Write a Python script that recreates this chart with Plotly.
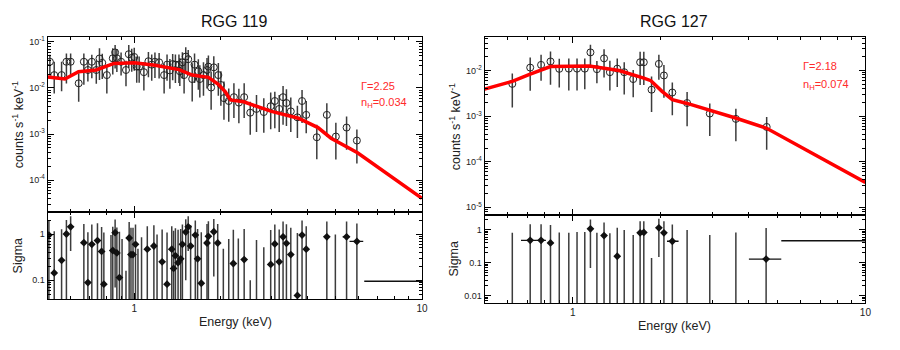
import numpy as np
import plotly.graph_objects as go

# RGG 119 spectrum (keV, counts s^-1 keV^-1), error bars in dex
e119 = [0.509, 0.527, 0.559, 0.581, 0.601, 0.641, 0.668, 0.690, 0.712, 0.738, 0.757, 0.774,
        0.803, 0.842, 0.858, 0.870, 0.900, 0.936, 0.957, 0.980, 1.00, 1.02, 1.04, 1.08,
        1.12, 1.15, 1.18, 1.22, 1.27, 1.30, 1.33, 1.36, 1.39, 1.43, 1.44, 1.47,
        1.49, 1.51, 1.54, 1.59, 1.62, 1.67, 1.69, 1.74, 1.79, 1.81, 1.85, 1.89,
        1.96, 2.00, 2.05, 2.13, 2.22, 2.31, 2.41, 2.53, 2.66, 2.82, 2.98, 3.08,
        3.19, 3.29, 3.38, 3.50, 3.69, 3.83, 3.96, 4.31, 4.67, 5.02, 5.47, 5.94]
f119 = [0.037, 0.019, 0.019, 0.037, 0.037, 0.0126, 0.037, 0.0245, 0.037, 0.0245, 0.0436, 0.035,
        0.019, 0.044, 0.059, 0.044, 0.037, 0.0245, 0.054, 0.045, 0.047, 0.029, 0.029, 0.022,
        0.038, 0.032, 0.037, 0.036, 0.019, 0.032, 0.024, 0.033, 0.032, 0.032, 0.023, 0.036,
        0.019, 0.048, 0.042, 0.0156, 0.032, 0.023, 0.0156, 0.019, 0.0245, 0.029, 0.0102, 0.028,
        0.019, 0.0116, 0.006, 0.0052, 0.0063, 0.0048, 0.0063, 0.0029, 0.0035, 0.0030, 0.004, 0.0052,
        0.0035, 0.0063, 0.0047, 0.0031, 0.0023, 0.0052, 0.0026, 0.00085, 0.0026, 0.00088, 0.00138, 0.00072]
up119 = [0.15, 0.29, 0.29, 0.18, 0.18, 0.22, 0.18, 0.22, 0.15, 0.2, 0.22, 0.2,
         0.22, 0.22, 0.16, 0.2, 0.2, 0.2, 0.2, 0.2, 0.2, 0.22, 0.22, 0.22,
         0.2, 0.22, 0.2, 0.2, 0.25, 0.22, 0.25, 0.22, 0.22, 0.22, 0.29, 0.22,
         0.3, 0.2, 0.2, 0.34, 0.24, 0.26, 0.3, 0.28, 0.26, 0.24, 0.35, 0.24,
         0.26, 0.3, 0.36, 0.27, 0.3, 0.3, 0.3, 0.24, 0.3, 0.3, 0.3, 0.2,
         0.3, 0.24, 0.3, 0.3, 0.25, 0.24, 0.3, 0.27, 0.25, 0.3, 0.24, 0.24]
dn119 = [0.3, 0.4, 0.35, 0.47, 0.3, 0.4, 0.5, 0.25, 0.36, 0.3, 0.47, 0.35,
         0.4, 0.35, 0.35, 0.3, 0.3, 0.35, 0.3, 0.3, 0.3, 0.35, 0.35, 0.4,
         0.35, 0.35, 0.35, 0.35, 0.4, 0.35, 0.4, 0.35, 0.4, 0.4, 0.32, 0.35,
         0.4, 0.35, 0.35, 0.49, 0.4, 0.4, 0.4, 0.45, 0.4, 0.4, 0.48, 0.4,
         0.45, 0.45, 0.47, 0.45, 0.45, 0.45, 0.45, 0.48, 0.5, 0.45, 0.5, 0.59,
         0.5, 0.6, 0.5, 0.45, 0.45, 0.48, 0.4, 0.48, 0.47, 0.5, 0.48, 0.5]
model119_e = [0.5, 0.574, 0.64, 0.738, 0.85, 1.0, 1.18, 1.43, 1.59, 1.81, 1.96, 2.07,
              2.16, 2.4, 3.0, 3.72, 4.35, 4.83, 5.97, 10]
model119_f = [0.0172, 0.0156, 0.0225, 0.0245, 0.034, 0.035, 0.031, 0.025, 0.019, 0.017, 0.012, 0.0083,
              0.0055, 0.005, 0.0031, 0.0022, 0.00138, 0.00081, 0.00039, 4.0e-5]

# RGG 119 residuals (sigma)
re119 = [0.505, 0.527, 0.559, 0.581, 0.601, 0.668, 0.69, 0.712, 0.745, 0.77, 0.784, 0.83,
         0.842, 0.858, 0.87, 0.888, 0.907, 0.936, 0.96, 0.974, 0.99, 1.01, 1.03, 1.06,
         1.11, 1.17, 1.20, 1.25, 1.30, 1.35, 1.37, 1.39, 1.42, 1.45, 1.47, 1.51,
         1.54, 1.57, 1.63, 1.66, 1.71, 1.79, 1.81, 1.89, 1.95, 2.04, 2.13, 2.21,
         2.30, 2.41, 2.53, 2.66, 2.82, 2.98, 3.08, 3.19, 3.29, 3.38, 3.50, 3.69,
         3.83, 3.96, 4.67, 5.0, 5.47, 5.94]
rv119 = [0.95, 0.144, 0.27, 1.0, 1.43, 0.65, 0.089, 0.6, 0.72, 0.42, 0.082, -0.05,
         0.44, 1.07, 0.39, 0.114, -0.22, -0.84, 0.82, 0.36, 0.36, 0.6, -0.52, -0.15,
         0.47, 0.55, -0.02, 0.25, 0.082, 0.47, 0.18, 0.34, 0.24, 0.29, 0.6, 1.1,
         1.43, 0.55, 0.95, 0.29, 0.086, 0.64, 0.89, 1.12, 0.64, -0.52, -0.22, 0.23,
         -0.2, 0.28, -0.9, -0.26, -0.48, 0.22, 0.61, 0.25, 0.87, 0.63, 0.36, 0.047,
         0.95, 0.47, 0.87, -0.02, 0.87, 0.69]
rxlo119 = [0] * 64 + [0.17, 0.34]
rxhi119 = [0] * 64 + [0.13, 0.31]
bin119 = [6.3, 10.5]
binv119 = 0.095

# RGG 127 spectrum
e127 = [0.622, 0.716, 0.78, 0.84, 0.90, 0.97, 1.035, 1.10, 1.15, 1.21, 1.28, 1.34,
        1.42, 1.50, 1.61, 1.70, 1.75, 1.86, 1.97, 2.05, 2.19, 2.46, 2.94, 3.61, 4.60]
f127 = [0.0051, 0.0116, 0.0133, 0.0158, 0.0109, 0.011, 0.011, 0.011, 0.025, 0.0107, 0.0185, 0.0092,
        0.011, 0.0092, 0.0065, 0.0152, 0.0152, 0.0038, 0.014, 0.0078, 0.0033, 0.00194, 0.00114, 0.00087, 0.00058]
up127 = [0.23, 0.22, 0.22, 0.22, 0.22, 0.22, 0.22, 0.22, 0.17, 0.18, 0.2, 0.25,
         0.22, 0.22, 0.2, 0.23, 0.23, 0.29, 0.2, 0.23, 0.22, 0.24, 0.22, 0.22, 0.22]
dn127 = [0.52, 0.51, 0.35, 0.51, 0.41, 0.48, 0.48, 0.45, 0.31, 0.31, 0.42, 0.4,
         0.4, 0.49, 0.4, 0.5, 0.5, 0.49, 0.35, 0.49, 0.5, 0.51, 0.49, 0.49, 0.5]
model127_e = [0.5, 0.622, 0.716, 0.84, 1.14, 1.44, 1.75, 1.85, 2.02, 2.19, 2.46, 3.6, 4.6, 10]
model127_f = [0.0039, 0.0058, 0.0083, 0.0122, 0.0126, 0.010, 0.0068, 0.006, 0.0035, 0.0023, 0.0019,
              0.00091, 0.00054, 3.5e-5]

# RGG 127 residuals
re127 = [0.622, 0.716, 0.78, 0.84, 0.90, 0.97, 1.035, 1.10, 1.15, 1.21, 1.28, 1.34,
         1.42, 1.50, 1.61, 1.70, 1.75, 1.86, 1.97, 2.05, 2.19, 2.46, 2.94, 3.61, 4.58]
rv127 = [-0.19, 0.48, 0.48, 0.40, -0.17, -0.19, -0.14, -0.14, 1.07, -0.19, 0.67, -0.22,
         0.158, -0.02, -0.3, 0.81, 0.83, -0.86, 1.15, 0.81, 0.45, -0.02, -0.31, -0.17, 0.13]
rxlo127 = [0, 0.05, 0.03] + [0] * 17 + [0.09, 0, 0, 0, 0.58]
rxhi127 = [0, 0.035, 0.03] + [0] * 17 + [0.11, 0, 0, 0, 0.58]
bin127 = [5.16, 10.5]
binv127 = 0.466

FONT = 'Liberation Sans, Arial, sans-serif'
ERRC = '#3c3c3c'


def spectrum(e, f, up, dn, xa, ya):
    f = np.array(f)
    return go.Scatter(
        x=e, y=f, mode='markers', xaxis=xa, yaxis=ya,
        marker=dict(symbol='circle-open', size=7, color='#222', line=dict(width=1)),
        error_y=dict(type='data', symmetric=False,
                     array=f * (10 ** np.array(up) - 1),
                     arrayminus=f * (1 - 10 ** -np.array(dn)),
                     color=ERRC, thickness=1.5, width=0))


def model(e, f, xa, ya):
    return go.Scatter(x=e, y=f, mode='lines', xaxis=xa, yaxis=ya,
                      line=dict(color='#ff0000', width=3.5), hoverinfo='skip')


def residuals(e, v, xlo, xhi, xa, ya):
    v = np.array(v)
    floor = 1e-4
    y = np.where(v > 0, v, floor)
    lower = np.maximum(v - 1, floor)
    return go.Scatter(
        x=e, y=y, mode='markers', xaxis=xa, yaxis=ya,
        marker=dict(symbol='diamond', size=6, color='#111'),
        error_y=dict(type='data', symmetric=False, array=v + 1 - y,
                     arrayminus=y - lower, color=ERRC, thickness=1.5, width=0),
        error_x=dict(type='data', symmetric=False, array=xhi, arrayminus=xlo,
                     color='#111', thickness=1.3, width=0))


def last_bin(b, v, xa, ya):
    return go.Scatter(x=b, y=[v, v], mode='lines', xaxis=xa, yaxis=ya,
                      line=dict(color='#111', width=1.3), hoverinfo='skip')


fig = go.Figure()
fig.add_trace(spectrum(e119, f119, up119, dn119, 'x', 'y'))
fig.add_trace(model(model119_e, model119_f, 'x', 'y'))
fig.add_trace(residuals(re119, rv119, rxlo119, rxhi119, 'x2', 'y2'))
fig.add_trace(last_bin(bin119, binv119, 'x2', 'y2'))
fig.add_trace(spectrum(e127, f127, up127, dn127, 'x3', 'y3'))
fig.add_trace(model(model127_e, model127_f, 'x3', 'y3'))
fig.add_trace(residuals(re127, rv127, rxlo127, rxhi127, 'x4', 'y4'))
fig.add_trace(last_bin(bin127, binv127, 'x4', 'y4'))


def minor_vals(lo, hi):
    return [m * 10.0 ** d for d in range(lo, hi) for m in range(2, 10)]


def axis(domain, rng, tickvals, ticktext, minor, anchor, labels=True, size=9):
    return dict(
        type='log', domain=domain, range=rng, anchor=anchor,
        showline=True, linecolor='black', linewidth=1, mirror='allticks',
        ticks='inside', ticklen=6, tickcolor='black', tickwidth=1,
        tickmode='array', tickvals=tickvals, ticktext=ticktext,
        showticklabels=labels, tickfont=dict(family=FONT, size=size, color='#222'),
        minor=dict(ticks='inside', ticklen=3, tickcolor='black', tickwidth=1,
                   tickmode='array', tickvals=minor, showgrid=False),
        showgrid=False, zeroline=False)


xr = [np.log10(0.5), 1]
xmin = minor_vals(-1, 1)
xl = [0.0533, 0.472]
xr_dom = [0.542, 0.968]

exp_lbl = lambda n: '10<sup>%d</sup>' % n

fig.update_layout(
    width=900, height=350, margin=dict(l=0, r=0, t=0, b=0),
    paper_bgcolor='white', plot_bgcolor='white', showlegend=False,
    font=dict(family=FONT, color='#222'),
    xaxis=axis(xl, xr, [1, 10], ['1', '10'], xmin, 'y', labels=False),
    yaxis=axis([0.397, 0.9], [-4.69, -0.89], [1e-4, 1e-3, 1e-2, 1e-1],
               [exp_lbl(n) for n in (-4, -3, -2, -1)], minor_vals(-5, -1), 'x'),
    xaxis2=axis(xl, xr, [1, 10], ['1', '10'], xmin, 'y2', size=10),
    yaxis2=axis([0.146, 0.397], [-1.41, 0.48], [0.1, 1], ['0.1', '1'], minor_vals(-2, 1), 'x2'),
    xaxis3=axis(xr_dom, xr, [1, 10], ['1', '10'], xmin, 'y3', labels=False),
    yaxis3=axis([0.389, 0.9], [-5.16, -1.26], [1e-5, 1e-4, 1e-3, 1e-2],
                [exp_lbl(n) for n in (-5, -4, -3, -2)], minor_vals(-6, -1), 'x3'),
    xaxis4=axis(xr_dom, xr, [1, 10], ['1', '10'], xmin, 'y4', size=10),
    yaxis4=axis([0.134, 0.389], [-2.23, 0.46], [0.01, 0.1, 1], ['0.01', '0.1', '1'],
                minor_vals(-3, 1), 'x4'),
)

ann = [
    dict(x=236, y=20, text='RGG 119', size=16, color='#111'),
    dict(x=679, y=20, text='RGG 127', size=16, color='#111'),
    dict(x=237, y=322, text='Energy (keV)', size=12.5, color='#222'),
    dict(x=679, y=326, text='Energy (keV)', size=12.5, color='#222'),
    dict(x=18, y=123, text='counts s<sup>-1</sup> keV<sup>-1</sup>', size=12.5,
         color='#222', angle=-90),
    dict(x=18, y=255, text='Sigma', size=12.5, color='#222', angle=-90),
    dict(x=458, y=125, text='counts s<sup>-1</sup> keV<sup>-1</sup>', size=12.5,
         color='#222', angle=-90),
    dict(x=457, y=258, text='Sigma', size=12.5, color='#222', angle=-90),
]
for a in ann:
    fig.add_annotation(x=a['x'] / 900, y=1 - a['y'] / 350, xref='paper', yref='paper',
                       text=a['text'], showarrow=False, textangle=a.get('angle', 0),
                       xanchor='center', yanchor='middle',
                       font=dict(family=FONT, size=a['size'], color=a['color']))

params = [(361, 84, 'Γ=2.25'), (361, 102, 'n<sub>H</sub>=0.034'),
          (806, 64, 'Γ=2.18'), (806, 83, 'n<sub>H</sub>=0.074')]
for px, py, txt in params:
    fig.add_annotation(x=px / 900, y=1 - py / 350, xref='paper', yref='paper', text=txt,
                       showarrow=False, xanchor='left', yanchor='middle',
                       font=dict(family=FONT, size=11, color='#ff2a2a'))

fig.write_html("out.html", config={'displayModeBar': False},
               post_script="document.body.style.margin='0';")
